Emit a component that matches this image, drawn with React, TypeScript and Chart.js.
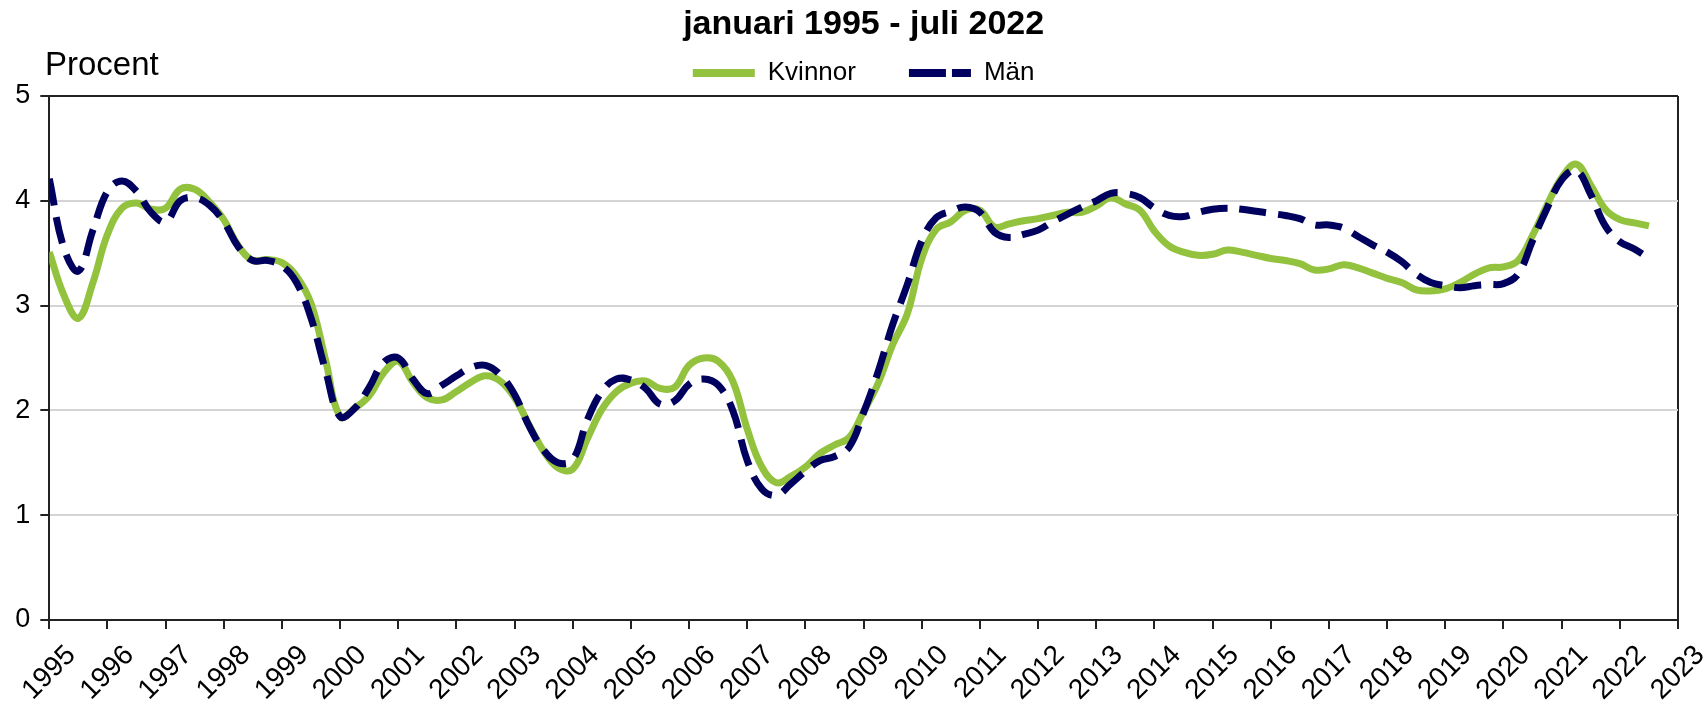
import React, { useEffect, useRef } from 'react';
import { Chart, registerables } from 'chart.js';

Chart.register(...registerables);

const FONT = '"Liberation Sans", Arial, Helvetica, sans-serif';

const chartTitle = 'januari 1995 - juli 2022';
const unitLabel = 'Procent';
const seriesNames = ['Kvinnor', 'Män'];

// Quarterly observation months (YYYY-MM)
const periods = [
  '1995-01','1995-04','1995-07','1995-10',
  '1996-01','1996-04','1996-07','1996-10',
  '1997-01','1997-04','1997-07','1997-10',
  '1998-01','1998-04','1998-07','1998-10',
  '1999-01','1999-04','1999-07','1999-10',
  '2000-01','2000-04','2000-07','2000-10',
  '2001-01','2001-04','2001-07','2001-10',
  '2002-01','2002-04','2002-07','2002-10',
  '2003-01','2003-04','2003-07','2003-10',
  '2004-01','2004-04','2004-07','2004-10',
  '2005-01','2005-04','2005-07','2005-10',
  '2006-01','2006-04','2006-07','2006-10',
  '2007-01','2007-04','2007-07','2007-10',
  '2008-01','2008-04','2008-07','2008-10',
  '2009-01','2009-04','2009-07','2009-10',
  '2010-01','2010-04','2010-07','2010-10',
  '2011-01','2011-04','2011-07','2011-10',
  '2012-01','2012-04','2012-07','2012-10',
  '2013-01','2013-04','2013-07','2013-10',
  '2014-01','2014-04','2014-07','2014-10',
  '2015-01','2015-04','2015-07','2015-10',
  '2016-01','2016-04','2016-07','2016-10',
  '2017-01','2017-04','2017-07','2017-10',
  '2018-01','2018-04','2018-07','2018-10',
  '2019-01','2019-04','2019-07','2019-10',
  '2020-01','2020-04','2020-07','2020-10',
  '2021-01','2021-04','2021-07','2021-10',
  '2022-01','2022-04','2022-07',
];

const kvinnor = [
  3.51, 3.10, 2.88, 3.22,
  3.68, 3.93, 3.98, 3.92,
  3.93, 4.11, 4.11, 3.99,
  3.82, 3.57, 3.43, 3.44,
  3.41, 3.28, 3.02, 2.48,
  1.94, 2.02, 2.14, 2.36,
  2.47, 2.27, 2.12, 2.10,
  2.18, 2.27, 2.33, 2.28,
  2.12, 1.86, 1.61, 1.45,
  1.44, 1.73, 2.01, 2.18,
  2.26, 2.28, 2.21, 2.22,
  2.43, 2.50, 2.47, 2.28,
  1.82, 1.46, 1.31, 1.37,
  1.46, 1.59, 1.67, 1.74,
  1.99, 2.26, 2.63, 2.92,
  3.45, 3.73, 3.80, 3.91,
  3.91, 3.75, 3.78, 3.81,
  3.83, 3.86, 3.89, 3.89,
  3.95, 4.03, 3.97, 3.91,
  3.71, 3.57, 3.51, 3.48,
  3.49, 3.53, 3.51, 3.48,
  3.45, 3.43, 3.40, 3.34,
  3.35, 3.39, 3.36, 3.31,
  3.26, 3.22, 3.15, 3.14,
  3.16, 3.22, 3.30, 3.36,
  3.37, 3.43, 3.67, 3.96,
  4.22, 4.35, 4.15, 3.92,
  3.82, 3.79, 3.76,
];

const man = [
  4.21, 3.55, 3.33, 3.72,
  4.09, 4.19, 4.09, 3.89,
  3.80, 4.00, 4.03, 3.96,
  3.80, 3.56, 3.43, 3.43,
  3.38, 3.22, 2.88, 2.38,
  1.94, 2.02, 2.22, 2.46,
  2.50, 2.30, 2.16, 2.24,
  2.33, 2.41, 2.43, 2.34,
  2.15, 1.85, 1.62, 1.50,
  1.53, 1.91, 2.18, 2.30,
  2.29, 2.21, 2.06, 2.09,
  2.25, 2.30, 2.24, 2.00,
  1.52, 1.25, 1.19, 1.30,
  1.42, 1.52, 1.56, 1.65,
  1.98, 2.37, 2.82, 3.20,
  3.62, 3.84, 3.90, 3.94,
  3.89, 3.70, 3.65, 3.68,
  3.72, 3.80, 3.87, 3.94,
  4.00, 4.07, 4.07, 4.03,
  3.93, 3.86, 3.85, 3.89,
  3.92, 3.93, 3.92, 3.90,
  3.88, 3.86, 3.83, 3.77,
  3.77, 3.74, 3.66, 3.58,
  3.51, 3.42, 3.30, 3.22,
  3.19, 3.17, 3.19, 3.20,
  3.21, 3.30, 3.62, 3.93,
  4.20, 4.29, 4.06, 3.76,
  3.61, 3.54, 3.45,
];

const xTickLabels = [
  '1995','1996','1997','1998','1999','2000','2001','2002','2003','2004',
  '2005','2006','2007','2008','2009','2010','2011','2012','2013','2014',
  '2015','2016','2017','2018','2019','2020','2021','2022','2023',
];
const yTickLabels = ['0', '1', '2', '3', '4', '5'];

const GREEN = '#92C23E';
const NAVY = '#00005F';

const toX = (p: string) => {
  const [y, m] = p.split('-').map(Number);
  return y + (m - 1) / 12;
};

const procentPlugin = {
  id: 'procentLabel',
  afterDraw(chart: any) {
    const ctx = chart.ctx;
    ctx.save();
    ctx.font = `33px ${FONT}`;
    ctx.fillStyle = '#000';
    ctx.textAlign = 'left';
    ctx.textBaseline = 'alphabetic';
    ctx.fillText(unitLabel, 45, 75);
    ctx.restore();
  },
};

const legendFixPlugin = {
  id: 'legendFix',
  beforeLayout(chart: any) {
    const lg = chart.legend;
    if (lg && !lg.__patched) {
      lg.afterFit = function () {
        this.height = 84;
      };
      lg.__patched = true;
    }
  },
};

export default function App() {
  const ref = useRef<HTMLCanvasElement | null>(null);

  useEffect(() => {
    if (!ref.current) return;
    const xs = periods.map(toX);
    const chart = new Chart(ref.current, {
      type: 'line',
      data: {
        datasets: [
          {
            label: seriesNames[0],
            data: xs.map((x, i) => ({ x, y: kvinnor[i] })),
            borderColor: GREEN,
            backgroundColor: GREEN,
            borderWidth: 7,
            pointRadius: 0,
            tension: 0.4,
            fill: false,
            order: 1,
          },
          {
            label: seriesNames[1],
            data: xs.map((x, i) => ({ x, y: man[i] })),
            borderColor: NAVY,
            backgroundColor: NAVY,
            borderWidth: 7,
            borderDash: [27, 12],
            pointRadius: 0,
            tension: 0.4,
            fill: false,
            order: 0,
          },
        ],
      },
      options: {
        responsive: false,
        animation: false,
        layout: { padding: { left: 0, right: 30, top: 0, bottom: 0 } },
        plugins: {
          title: {
            display: true,
            fullSize: false,
            text: chartTitle,
            color: '#000',
            font: { family: FONT, size: 34, weight: 'bold' },
            padding: { top: 4, bottom: -37.8 },
          },
          legend: {
            display: true,
            fullSize: false,
            position: 'top',
            labels: {
              color: '#000',
              font: { family: FONT, size: 26 },
              usePointStyle: true,
              pointStyleWidth: 62,
              padding: 53,
              generateLabels: (chart: any) =>
                chart.data.datasets.map((ds: any, i: number) => ({
                  text: ds.label,
                  fillStyle: ds.borderColor,
                  strokeStyle: ds.borderColor,
                  lineWidth: 8,
                  lineDash: i === 1 ? [37, 6] : [],
                  lineCap: 'butt',
                  pointStyle: 'line',
                  hidden: false,
                  datasetIndex: i,
                })),
            },
          },
          tooltip: { enabled: false },
        },
        scales: {
          x: {
            type: 'linear',
            min: 1995,
            max: 2023,
            grid: {
              color: (c: any) => (c.tick && c.tick.value === 2023 ? '#222' : 'rgba(0,0,0,0)'),
              lineWidth: 2,
              drawTicks: true,
              tickColor: '#222',
              tickLength: 9,
              tickWidth: 2,
            },
            border: { display: true, color: '#222', width: 2 },
            ticks: {
              stepSize: 1,
              autoSkip: false,
              maxRotation: 45,
              minRotation: 45,
              padding: 10,
              labelOffset: 22,
              color: '#000',
              font: { family: FONT, size: 28 },
              callback: (_v: any, i: number) => xTickLabels[i],
            },
            afterFit: (s: any) => {
              s.height = 86;
              s.paddingLeft = 0;
              s.paddingRight = 0;
            },
          },
          y: {
            type: 'linear',
            min: 0,
            max: 5,
            grid: {
              color: (c: any) =>
                c.tick && (c.tick.value === 5 || c.tick.value === 0) ? '#222' : '#D4D4D4',
              lineWidth: 2,
              drawTicks: true,
              tickColor: '#222',
              tickLength: 9,
              tickWidth: 2,
            },
            border: { display: true, color: '#222', width: 2 },
            ticks: {
              stepSize: 1,
              padding: 10,
              color: '#000',
              font: { family: FONT, size: 27 },
              callback: (_v: any, i: number) => yTickLabels[i],
            },
            afterFit: (s: any) => {
              s.width = 49.3;
              s.paddingTop = 0;
              s.paddingBottom = 0;
            },
          },
        },
      } as any,
      plugins: [procentPlugin, legendFixPlugin],
    });
    return () => chart.destroy();
  }, []);

  return (
    <div style={{ position: 'fixed', left: 0, top: 0, width: 1708, height: 706, background: '#fff' }}>
      <canvas ref={ref} width={1708} height={706} style={{ display: 'block' }} />
    </div>
  );
}
